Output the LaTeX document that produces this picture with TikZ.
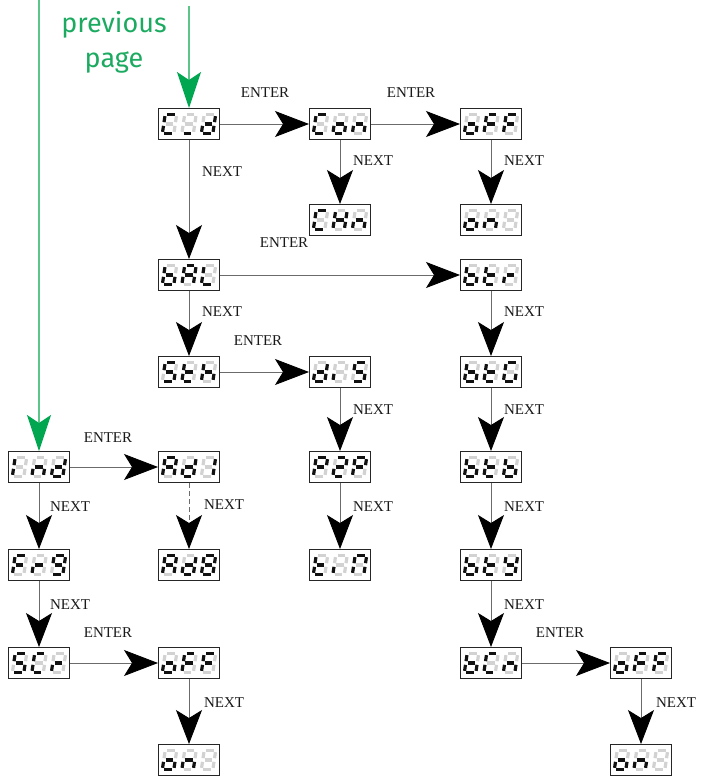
\documentclass[tikz,border=0pt]{standalone}
\usepackage{fontspec}
\setmainfont{Liberation Serif}
\newfontfamily\greenfont{Fira Sans}
\usetikzlibrary{arrows.meta}
\definecolor{segon}{HTML}{111111}
\definecolor{segoff}{HTML}{D2D2D2}
\definecolor{linegrey}{HTML}{6B6B6B}
\definecolor{gline}{HTML}{5CC58A}
\definecolor{ghead}{HTML}{00A650}
\definecolor{gtext}{HTML}{1BAA60}
\tikzset{
  seg/.style={line width=3.2pt, line cap=butt},
  dispbox/.style={draw=black!85, line width=1pt, fill=white, minimum width=61pt, minimum height=31pt, inner sep=0pt},
  nav/.style={draw=linegrey, line width=0.8pt, -{Stealth[length=34pt,width=26pt,inset=8pt,color=black]}},
  navdash/.style={nav, dash pattern=on 5pt off 3pt},
  lbl/.style={font=\fontsize{15}{17}\selectfont, text=black!90, inner sep=0pt},
  gtxt/.style={font=\greenfont\fontsize{27}{30}\selectfont, text=gtext, inner sep=0pt},
  garrow/.style={draw=gline, line width=1.5pt, -{Stealth[length=36pt,width=24pt,inset=8pt,color=ghead]}}
}
\newcommand\sg[3]{\ifnum#1=1 \draw[seg,segon] #2 -- #3;\else \draw[seg,segoff] #2 -- #3;\fi}
\def\dosegs#1#2#3#4#5#6#7{%
  \sg{#1}{(1.9,19.5)}{(9.6,19.5)}%
  \sg{#2}{(11.5,11.6)}{(11.5,17.6)}%
  \sg{#3}{(11.5,1.9)}{(11.5,7.9)}%
  \sg{#4}{(1.9,0)}{(9.6,0)}%
  \sg{#5}{(0,1.9)}{(0,7.9)}%
  \sg{#6}{(0,11.6)}{(0,17.6)}%
  \sg{#7}{(1.9,9.75)}{(9.6,9.75)}%
}
\newcommand\sevdig[2]{\begin{scope}[shift={#1},xslant=0.15]\dosegs#2\end{scope}}
\newcommand\disp[6]{%
  \node[dispbox] (#1) at (#2,#3) {};
  \sevdig{(#2-26.7,#3-9.75)}{#4}%
  \sevdig{(#2-7.2,#3-9.75)}{#5}%
  \sevdig{(#2+12.3,#3-9.75)}{#6}%
}
\begin{document}
\begin{tikzpicture}[x=1pt,y=1pt]
\useasboundingbox (0,0) rectangle (701,-782);
% displays
\disp{cd}{189}{-124}{1001110}{0001000}{0111101}
\disp{con}{340}{-124}{1001110}{0011101}{0010101}
\disp{offa}{491}{-124}{0011101}{1000111}{1000111}
\disp{chn}{340}{-220}{1001110}{0110111}{0010101}
\disp{ona}{491}{-220}{0011101}{0010101}{0000000}
\disp{bal}{189}{-275}{0011111}{1110111}{0001110}
\disp{btr}{491}{-275}{0011111}{0001111}{0000101}
\disp{sth}{189}{-372}{1011011}{0001111}{0010111}
\disp{dis}{340}{-372}{0111101}{0000100}{1011011}
\disp{btg}{491}{-372}{0011111}{0001111}{1011110}
\disp{ind}{39}{-467}{0000110}{0010101}{0111101}
\disp{adone}{189}{-467}{1110111}{0111101}{0110000}
\disp{ptp}{340}{-467}{1100111}{1101101}{1100111}
\disp{btb}{491}{-467}{0011111}{0001111}{0011111}
\disp{frn}{39}{-565}{1000111}{0000101}{1111011}
\disp{ade}{189}{-565}{1110111}{0111101}{1111111}
\disp{tin}{340}{-565}{0001111}{0000100}{1110110}
\disp{bty}{491}{-565}{0011111}{0001111}{0111011}
\disp{scr}{39}{-663}{1011011}{1001110}{0000101}
\disp{offb}{189}{-663}{0011101}{1000111}{1000111}
\disp{btn}{491}{-663}{0011111}{1001110}{0010101}
\disp{offc}{641}{-663}{0011101}{1000111}{1000111}
\disp{onb}{189}{-760}{0011101}{0010101}{0000000}
\disp{onc}{641}{-760}{0011101}{0010101}{0000000}
% connectors
\draw[nav] (cd.east) -- (con.west);
\draw[nav] (con.east) -- (offa.west);
\draw[nav] (con.south) -- (chn.north);
\draw[nav] (offa.south) -- (ona.north);
\draw[nav] (cd.south) -- (bal.north);
\draw[nav] (bal.east) -- (btr.west);
\draw[nav] (bal.south) -- (sth.north);
\draw[nav] (sth.east) -- (dis.west);
\draw[nav] (dis.south) -- (ptp.north);
\draw[nav] (ptp.south) -- (tin.north);
\draw[nav] (btr.south) -- (btg.north);
\draw[nav] (btg.south) -- (btb.north);
\draw[nav] (btb.south) -- (bty.north);
\draw[nav] (bty.south) -- (btn.north);
\draw[nav] (btn.east) -- (offc.west);
\draw[nav] (offc.south) -- (onc.north);
\draw[nav] (ind.east) -- (adone.west);
\draw[navdash] (adone.south) -- (ade.north);
\draw[nav] (ind.south) -- (frn.north);
\draw[nav] (frn.south) -- (scr.north);
\draw[nav] (scr.east) -- (offb.west);
\draw[nav] (offb.south) -- (onb.north);
% green arrows
\coordinate (gtopa) at (39,0);
\coordinate (gtopb) at (189,-6);
\draw[garrow] (gtopa) -- (ind.north);
\draw[garrow] (gtopb) -- (cd.north);
\node[gtxt] (prev) at (114,-25) {previous};
\node[gtxt] (page) at (114,-62) {page};
% labels
\node[lbl] (ea) at (265,-93) {ENTER};
\node[lbl] (eb) at (411,-93) {ENTER};
\node[lbl] (ec) at (284,-243) {ENTER};
\node[lbl] (ed) at (258,-341) {ENTER};
\node[lbl] (ee) at (108,-438) {ENTER};
\node[lbl] (ef) at (108,-633) {ENTER};
\node[lbl] (eg) at (560,-633) {ENTER};
\node[lbl] (na) at (222,-172) {NEXT};
\node[lbl] (nb) at (373,-161) {NEXT};
\node[lbl] (nc) at (524,-161) {NEXT};
\node[lbl] (nd) at (222,-312) {NEXT};
\node[lbl] (ne) at (70,-507) {NEXT};
\node[lbl] (nf) at (224,-505) {NEXT};
\node[lbl] (ng) at (373,-410) {NEXT};
\node[lbl] (nh) at (373,-507) {NEXT};
\node[lbl] (ni) at (524,-312) {NEXT};
\node[lbl] (nj) at (524,-410) {NEXT};
\node[lbl] (nk) at (524,-507) {NEXT};
\node[lbl] (nl) at (524,-605) {NEXT};
\node[lbl] (nm) at (70,-605) {NEXT};
\node[lbl] (nn) at (224,-703) {NEXT};
\node[lbl] (no) at (676,-703) {NEXT};
\end{tikzpicture}
\end{document}
